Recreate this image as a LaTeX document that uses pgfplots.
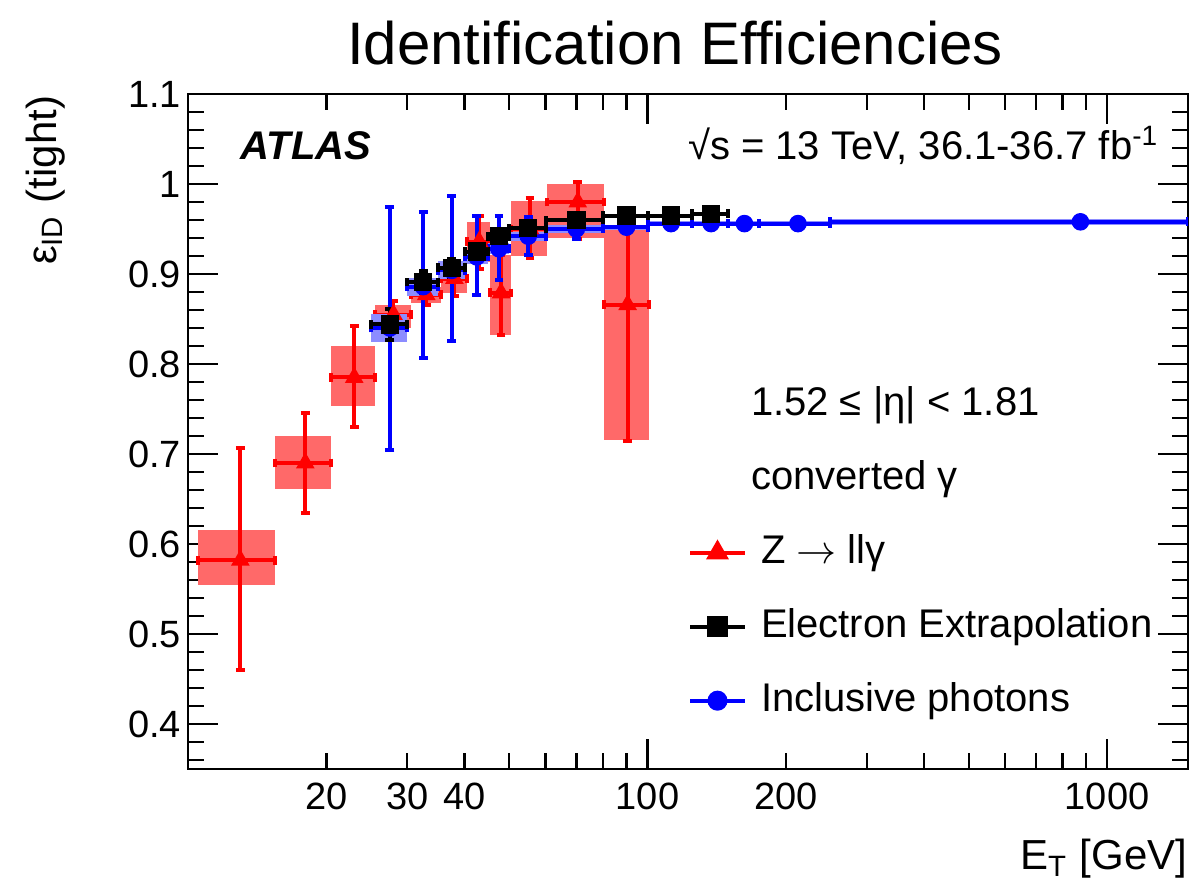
\documentclass[border=0pt]{standalone}
\usepackage{pgfplots}
\pgfplotsset{compat=1.18}
\usepackage{fontspec}
\setmainfont{Liberation Sans}
\definecolor{rred}{RGB}{255,0,0}
\definecolor{rblue}{RGB}{0,0,255}
\definecolor{redbox}{RGB}{255,105,105}
\definecolor{bluebox}{RGB}{140,140,255}
\newcommand{\rbox}[4]{\addplot[draw=none, fill=redbox, forget plot] coordinates {(#1,#3) (#2,#3) (#2,#4) (#1,#4)} -- cycle;}
\newcommand{\bbox}[4]{\addplot[draw=none, fill=bluebox, forget plot] coordinates {(#1,#3) (#2,#3) (#2,#4) (#1,#4)} -- cycle;}
\begin{document}
\begin{tikzpicture}
\begin{axis}[
  name=ax, at={(0pt,0pt)}, anchor=south west,
  scale only axis, width=250pt, height=168.75pt,
  xmode=log, xmin=10, xmax=1500, ymin=0.35, ymax=1.1,
  axis line style={line width=0.7pt},
  tick align=inside,
  major tick length=7.5pt, minor tick length=4pt,
  every tick/.style={black, line width=0.6pt},
  xtick={100,1000}, xticklabels={100,1000},
  extra x ticks={20,30,40,200}, extra x tick labels={20,30,40,200},
  extra x tick style={major tick length=4pt},
  minor xtick={50,60,70,80,90,300,400,500,600,700,800,900},
  ytick={0.4,0.5,0.6,0.7,0.8,0.9,1.0,1.1},
  minor ytick={0.36,0.38,0.42,0.44,0.46,0.48,0.52,0.54,0.56,0.58,0.62,0.64,0.66,0.68,0.72,0.74,0.76,0.78,0.82,0.84,0.86,0.88,0.92,0.94,0.96,0.98,1.02,1.04,1.06,1.08},
  yticklabel style={/pgf/number format/fixed, /pgf/number format/precision=1, xshift=1.8pt},
  tick label style={font=\fontsize{9.5}{11}\selectfont},
  /pgf/number format/assume math mode=true,
  legend style={draw=none, fill=none, at={(rel axis cs:0.50,0.567)}, anchor=north west,
    inner sep=0pt, outer sep=0pt, row sep=9.3pt, column sep=3.5pt,
    font=\fontsize{10}{12}\selectfont,
    nodes={inner sep=0pt, text height=7.2pt, text depth=2pt}},
  legend cell align=left,
  legend image code/.code={\draw[#1, mark repeat=2, mark phase=2] plot coordinates {(0pt,0pt) (6.875pt,0pt) (13.75pt,0pt)};},
]
% red boxes (Z -> ll gamma)
\rbox{10.5}{15.5}{0.554}{0.615}
\rbox{15.5}{20.5}{0.661}{0.720}
\rbox{20.5}{25.5}{0.753}{0.820}
\rbox{25.5}{30.5}{0.840}{0.866}
\rbox{30.5}{35.5}{0.868}{0.886}
\rbox{35.5}{40.5}{0.879}{0.907}
\rbox{40.5}{45.5}{0.913}{0.958}
\rbox{45.5}{50.5}{0.832}{0.921}
\rbox{50.5}{60.5}{0.920}{0.981}
\rbox{60.5}{80.5}{0.940}{1.000}
\rbox{80.5}{100.5}{0.716}{0.953}
\addplot[rred, only marks, mark=triangle*, mark size=2.3pt, forget plot,
  error bars/.cd, x dir=both, x explicit, y dir=both, y explicit,
  error bar style={line width=1pt, rred}, error mark options={rotate=90, line width=1pt, mark size=1.1pt, rred}]
  table[x=x, y=y, x error minus=xm, x error plus=xp, y error minus=ym, y error plus=yp] {
x y xm xp ym yp
13 0.582 2.5 2.5 0.122 0.125
18 0.690 2.5 2.5 0.056 0.056
23 0.785 2.5 2.5 0.055 0.057
28 0.855 2.5 2.5 0.017 0.015
33 0.877 2.5 2.5 0.012 0.011
38 0.895 2.5 2.5 0.019 0.015
43 0.936 2.5 2.5 0.030 0.028
48 0.879 2.5 2.5 0.047 0.042
55.5 0.950 5 5 0.032 0.035
70.5 0.980 10 10 0.041 0.022
90.5 0.866 10 10 0.152 0.090
};
% blue boxes (inclusive photons)
\bbox{25}{30}{0.824}{0.856}
\bbox{30}{35}{0.876}{0.896}
\bbox{35}{40}{0.894}{0.914}
\bbox{40}{45}{0.911}{0.927}
\bbox{45}{50}{0.922}{0.934}
\bbox{50}{60}{0.937}{0.947}
\bbox{60}{80}{0.946}{0.954}
\bbox{80}{100}{0.949}{0.955}
\bbox{100}{125}{0.953}{0.959}
\bbox{125}{150}{0.953}{0.959}
\bbox{150}{175}{0.953}{0.959}
\bbox{175}{250}{0.953}{0.959}
\bbox{250}{1500}{0.955}{0.961}
\addplot[rblue, only marks, mark=*, mark size=2pt, forget plot,
  error bars/.cd, x dir=both, x explicit, y dir=both, y explicit,
  error bar style={line width=1pt, rblue}, error mark options={rotate=90, line width=1pt, mark size=1.1pt, rblue}]
  table[x=x, y=y, x error minus=xm, x error plus=xp, y error minus=ym, y error plus=yp] {
x y xm xp ym yp
27.5 0.840 2.5 2.5 0.136 0.135
32.5 0.886 2.5 2.5 0.079 0.083
37.5 0.904 2.5 2.5 0.079 0.083
42.5 0.919 2.5 2.5 0.042 0.046
47.5 0.928 2.5 2.5 0.035 0.037
55 0.942 5 5 0.021 0.021
70 0.950 10 10 0.011 0.011
90 0.952 10 10 0.005 0.005
112.5 0.956 12.5 12.5 0.003 0.003
137.5 0.956 12.5 12.5 0.003 0.003
162.5 0.956 12.5 12.5 0.003 0.003
212.5 0.956 37.5 37.5 0.003 0.003
875 0.958 625 625 0.003 0.003
};
% black (electron extrapolation)
\addplot[black, only marks, mark=square*, mark size=2.1pt, forget plot,
  error bars/.cd, x dir=both, x explicit, y dir=both, y explicit,
  error bar style={line width=1pt, black}, error mark options={rotate=90, line width=1pt, mark size=1.1pt, black}]
  table[x=x, y=y, x error minus=xm, x error plus=xp, y error minus=ym, y error plus=yp] {
x y xm xp ym yp
27.5 0.844 2.5 2.5 0.017 0.017
32.5 0.891 2.5 2.5 0.012 0.012
37.5 0.907 2.5 2.5 0.010 0.010
42.5 0.925 2.5 2.5 0.008 0.008
47.5 0.942 2.5 2.5 0.007 0.007
55 0.951 5 5 0.006 0.006
70 0.960 10 10 0.005 0.005
90 0.965 10 10 0.004 0.004
112.5 0.965 12.5 12.5 0.004 0.004
137.5 0.967 12.5 12.5 0.004 0.004
};
\addlegendimage{empty legend}
\addlegendentry{\hspace*{-2.5pt}1.52 ≤ |η| < 1.81}
\addlegendimage{empty legend}
\addlegendentry{\hspace*{-2.5pt}converted γ}
\addlegendimage{rred, line width=1pt, mark=triangle*, mark size=2.3pt}
\addlegendentry{Z $\rightarrow$ llγ}
\addlegendimage{black, line width=1pt, mark=square*, mark size=2.1pt}
\addlegendentry{Electron Extrapolation}
\addlegendimage{rblue, line width=1pt, mark=*, mark size=2pt}
\addlegendentry{Inclusive photons}
\end{axis}
\node[anchor=base, inner sep=0pt, font=\fontsize{15}{18}\selectfont] at (121.75pt,176pt) {Identification Efficiencies};
\node[rotate=90, anchor=base east, inner sep=0pt, font=\fontsize{10.5}{12}\selectfont] at (-33pt,168.5pt) {ε\textsubscript{ID} (tight)};
\node[anchor=base east, inner sep=0pt, font=\fontsize{10.5}{12}\selectfont] at (250pt,-25.25pt) {E\textsubscript{T} [GeV]};
\node[anchor=base west, inner sep=0pt, font=\fontsize{10}{12}\selectfont\bfseries\itshape] at (13pt,152.25pt) {ATLAS};
\node[anchor=base east, inner sep=0pt, font=\fontsize{10}{12}\selectfont] at (243pt,152.25pt) {√s = 13 TeV, 36.1-36.7 fb\textsuperscript{-1}};
\path[use as bounding box] (-47pt,-29.25pt) rectangle (251pt,192.25pt);
\end{tikzpicture}
\end{document}
